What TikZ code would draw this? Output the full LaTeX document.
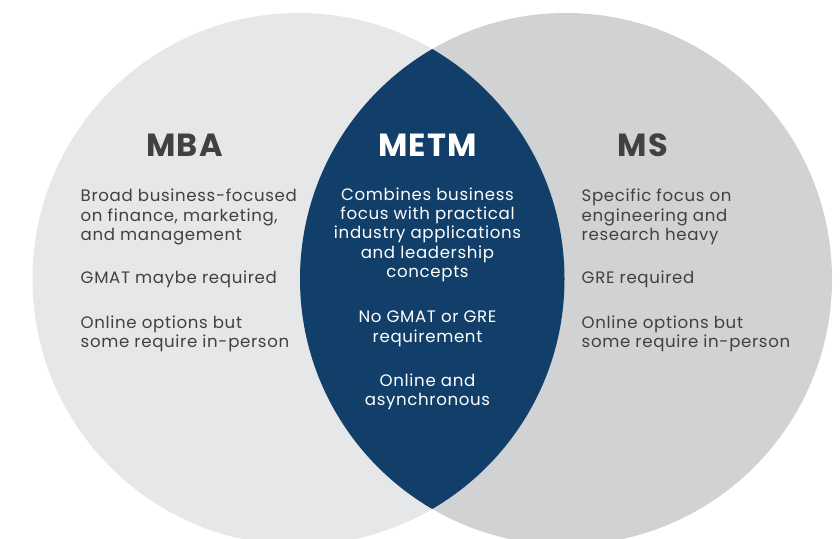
\documentclass[tikz,border=0pt]{standalone}
\usepackage{fontspec}
\setmainfont{Poppins}[LetterSpace=4]
\usepackage{xcolor}
\usetikzlibrary{positioning}

\definecolor{mbagray}{HTML}{E6E7E8}
\definecolor{msgray}{HTML}{D1D2D4}
\definecolor{metmblue}{HTML}{123F69}
\definecolor{textgray}{HTML}{414042}

\begin{document}
\begin{tikzpicture}[x=1pt,y=-1pt,
    heading/.style={font=\fontsize{32}{36}\selectfont\bfseries, inner sep=0pt, anchor=base},
    sidetext/.style={font=\fontsize{16.6}{19.3}\selectfont, inner sep=0pt, anchor=base west, align=left, text=textgray},
    midtext/.style={font=\fontsize{16.6}{19.3}\selectfont, inner sep=0pt, anchor=base, align=center, text=white}]
            \def\mbacircle{(298.5,279) circle (266pt)}
            \def\mscircle{(566,279) circle (266pt)}
            \useasboundingbox (0,0) rectangle (840,538);
            \clip (0,0) rectangle (840,538);
            \fill[mbagray] \mbacircle;
            \fill[msgray] \mscircle;
            \begin{scope}
                \clip \mbacircle;
                \fill[metmblue] \mscircle;
            \end{scope}
            % headings
            \node[heading, text=textgray] (mba) at (184.5,156.5) {MBA};
            \node[heading, text=white] (metm) at (427.5,156.5) {METM};
            \node[heading, text=textgray] (ms) at (643,156.5) {MS};
            % MBA (placed by the baseline of the last line)
            \node[sidetext] (mbafocus) at (80.5,240.5) {Broad business-focused\\on finance, marketing,\\and management};
            \node[sidetext] (mbatest) at (80.5,283) {GMAT maybe required};
            \node[sidetext] (mbaonline) at (80.5,347.5) {Online options but\\some require in-person};
            % METM
            \node[midtext] (metmfocus) at (427.5,277.5) {Combines business\\focus with practical\\industry applications\\and leadership\\concepts};
            \node[midtext] (metmtest) at (427.5,342) {No GMAT or GRE\\requirement};
            \node[midtext] (metmonline) at (427.5,405.5) {Online and\\asynchronous};
            % MS
            \node[sidetext] (msfocus) at (581.5,240.5) {Specific focus on\\engineering and\\research heavy};
            \node[sidetext] (mstest) at (581.5,283) {GRE required};
            \node[sidetext] (msonline) at (581.5,347.5) {Online options but\\some require in-person};
        \end{tikzpicture}
\end{document}
